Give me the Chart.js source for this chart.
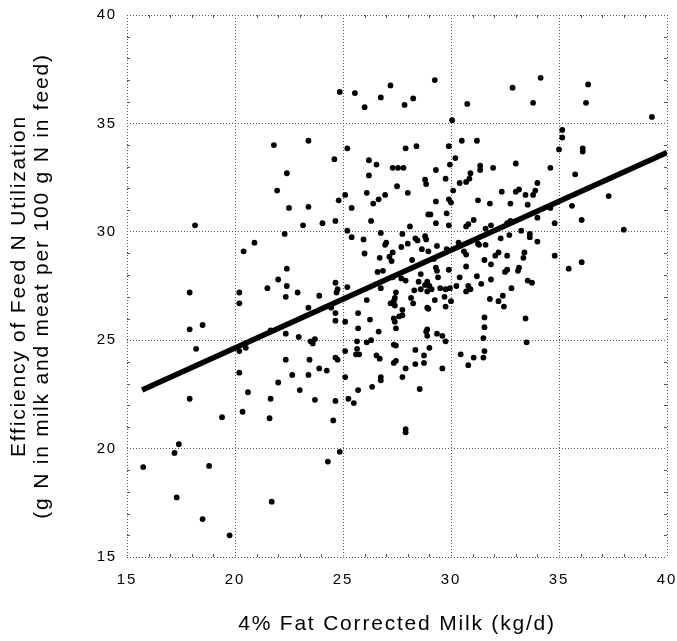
<!DOCTYPE html>
<html><head><meta charset="utf-8">
<script src="https://cdn.jsdelivr.net/npm/chart.js@4.4.0/dist/chart.umd.min.js"></script>
<style>html,body{margin:0;padding:0;background:#fff}#wrap{width:677px;height:641px}</style>
</head><body><div id="wrap"><canvas id="c" width="677" height="641"></canvas></div>
<script>
// 4% fat corrected milk (kg/d)
const fcm = [
18.15,20.4,17.9,20.2,20.2,17.9,18.5,18.2,20.2,20.2,17.9,19.4,20.35,17.4,17.2,15.75,18.8,17.3,18.5,19.75,
21.8,23.4,25.2,24.6,22.4,21.95,25.1,24.8,22.5,23.4,23.15,24.05,24.65,25.2,22.3,20.9,22.4,22.0,22.4,21.5,22.9,23.9,24.65,24.75,24.7,22.35,25.2,
23.4,24.45,24.65,24.65,25.1,21.65,22.35,22.95,23.5,23.7,23.6,20.5,25.1,22.35,23.45,24.65,24.75,23.9,24.25,22.65,23.4,25.1,22.0,20.6,23.0,21.65,23.7,24.65,25.25,21.6,24.55,24.85,24.3,21.7,
24.85,25.55,27.2,26.75,26.0,27.85,28.25,29.25,30.05,26.2,26.55,27.9,28.4,27.3,27.55,27.8,26.2,28.8,28.85,29.3,29.9,30.2,29.95,29.75,30.4,27.5,26.1,26.95,28.0,30.1,26.65,29.3,29.9,
26.4,25.4,26.3,28.95,29.05,29.8,28.1,29.3,29.9,26.75,27.75,25.4,25.95,28.35,28.45,28.8,28.85,27.0,26.95,27.7,28.0,28.65,28.95,29.35,29.8,30.35,26.0,26.7,27.15,27.3,27.25,28.2,29.2,29.3,29.35,29.9,26.6,26.85,27.3,27.7,27.9,28.6,28.5,28.9,29.0,28.8,28.6,29.1,29.4,29.5,29.75,29.95,30.25,27.4,28.15,26.75,
27.45,28.3,28.9,26.1,27.2,27.35,27.4,28.25,28.9,28.95,29.25,29.7,29.75,30.0,27.75,27.6,27.75,25.7,26.25,27.35,27.4,27.45,25.7,26.65,28.9,28.85,28.9,29.35,29.6,29.75,25.65,26.1,26.3,27.35,27.45,25.65,25.6,25.75,28.35,29.0,28.75,26.55,26.7,27.35,27.45,28.35,28.75,27.9,29.6,26.75,26.75,27.75,25.7,26.35,28.55,25.5,27.9,27.9,30.45,
30.75,32.85,34.15,33.8,30.5,31.2,35.15,35.15,35.0,31.35,31.35,30.9,31.95,33.0,34.6,30.7,30.85,32.35,33.0,33.15,33.45,33.8,33.9,34.0,31.25,
30.0,31.8,32.75,33.55,31.05,30.7,30.8,31.85,31.6,32.75,32.6,34.0,34.6,34.8,33.25,33.65,33.65,34.0,32.3,32.7,31.25,31.3,31.6,30.6,30.7,32.2,32.05,32.6,33.4,33.35,34.8,31.55,31.85,30.7,32.6,32.5,33.15,33.1,30.4,31.2,31.85,33.55,33.75,31.4,30.8,30.9,30.7,32.8,35.45,32.4,31.8,
32.2,32.45,31.55,33.45,31.55,31.5,33.5,31.55,31.05,31.5,30.8,
36.35,36.25,39.3,36.1,36.1,35.75,37.3,35.6,36.05,38.0,36.05
];
// Efficiency of feed N utilization (g N in milk and meat per 100 g N in feed)
const efficiency = [
30.3,29.1,27.2,27.2,26.7,25.5,25.7,24.6,24.5,23.5,22.3,21.45,21.7,20.2,19.8,19.15,19.2,17.75,16.75,16.0,
34.0,34.2,33.85,33.35,32.7,31.9,31.7,31.45,31.1,31.15,30.3,30.4,30.5,30.05,29.9,29.5,28.3,27.8,27.5,27.4,27.2,27.05,27.65,27.35,27.2,27.0,27.45,
26.5,26.5,26.25,25.9,25.85,25.45,25.3,25.15,24.95,25.05,24.85,24.65,24.5,24.1,24.1,24.2,24.1,23.7,23.6,23.4,23.4,23.3,23.05,22.6,22.7,22.3,22.25,22.2,22.3,21.4,21.3,19.85,19.4,17.55,
36.45,36.4,36.75,36.2,35.75,35.85,36.15,37.0,35.15,33.3,33.1,33.85,33.95,32.95,32.95,32.95,32.6,32.4,32.2,32.85,33.95,33.4,33.1,32.45,32.25,32.1,31.8,31.7,31.8,31.9,31.5,31.4,31.5,
31.3,31.1,30.5,30.8,30.8,30.85,30.25,30.4,30.3,29.95,29.9,29.75,29.65,29.7,29.6,29.8,29.65,29.5,29.4,29.3,29.45,29.2,29.1,29.35,29.2,29.5,29.0,28.8,28.85,29.05,28.65,28.7,28.75,28.35,28.2,28.25,28.15,28.2,27.9,27.85,27.75,28.05,27.7,27.7,27.5,27.55,27.35,27.35,27.9,27.4,27.35,27.4,27.5,26.95,26.95,27.4,
27.2,27.3,27.25,26.85,26.7,26.8,26.6,26.7,26.5,26.45,26.85,27.0,26.55,26.8,26.4,26.1,26.15,26.25,25.95,26.0,25.85,25.55,25.55,25.4,25.5,25.4,25.2,25.3,25.2,24.95,24.95,24.9,25.0,24.8,24.75,24.6,24.35,24.35,24.55,24.65,24.3,24.3,24.15,23.95,24.05,23.9,23.95,23.7,23.7,23.3,23.15,23.3,22.7,22.85,22.75,22.1,20.9,20.75,24.35,
35.9,36.65,37.1,35.95,34.2,34.2,34.7,34.35,33.8,33.05,32.85,32.7,32.95,33.15,32.95,32.3,32.45,31.85,31.85,31.95,31.7,31.7,31.9,32.25,31.45,
31.35,31.3,31.3,31.25,30.55,30.25,30.35,30.3,30.15,30.5,30.4,30.65,31.1,30.4,30.05,29.9,29.75,29.55,29.7,29.85,29.45,29.4,29.4,29.1,28.95,29.05,28.9,28.9,29.05,28.8,28.9,28.7,28.5,28.4,28.25,28.15,28.35,28.2,27.9,27.95,27.8,27.75,27.65,27.6,27.5,27.35,27.25,27.4,28.3,27.05,26.9,
26.8,26.55,26.05,26.0,25.6,25.1,24.9,24.5,24.2,24.2,23.85,
36.8,35.95,35.3,33.85,33.7,32.65,31.65,31.2,30.55,30.1,28.6
];
// regression line end points
const fitX = [15.7, 40];
const fitY = [22.7, 33.66];
const xTicks = [15, 20, 25, 30, 35, 40];
const yTicks = [15, 20, 25, 30, 35, 40];
const minorTickValues = [16,17,18,19,21,22,23,24,26,27,28,29,31,32,33,34,36,37,38,39];

const FONT = "'Liberation Sans', Arial, Helvetica, sans-serif";
const GRID = '#555';

const spacing = {
  id: 'spacing',
  beforeLayout(c) { c.ctx.letterSpacing = '1.8px'; },
  beforeDraw(c) { c.ctx.letterSpacing = '1.8px'; }
};
const minor = {
  id: 'minor',
  beforeDatasetsDraw(chart) {
    const {ctx, chartArea: a, scales: {x, y}} = chart;
    ctx.save();
    ctx.strokeStyle = GRID; ctx.lineWidth = 1; ctx.beginPath();
    for (const v of minorTickValues) {
      const px = Math.round(x.getPixelForValue(v)) + 0.5;
      ctx.moveTo(px, a.bottom); ctx.lineTo(px, a.bottom - 3);
      ctx.moveTo(px, a.top); ctx.lineTo(px, a.top + 3);
      const py = Math.round(y.getPixelForValue(v)) + 0.5;
      ctx.moveTo(a.left, py); ctx.lineTo(a.left + 3, py);
      ctx.moveTo(a.right, py); ctx.lineTo(a.right - 3, py);
    }
    ctx.stroke(); ctx.restore();
  }
};

new Chart(document.getElementById('c'), {
  type: 'scatter',
  data: {
    datasets: [
      { type: 'line', data: fitX.map((x, i) => ({x, y: fitY[i]})), borderColor: '#000', borderWidth: 5.5,
        pointRadius: 0, fill: false, order: 0, borderCapStyle: 'butt' },
      { data: fcm.map((x, i) => ({x, y: efficiency[i]})), pointRadius: 2.9, pointHoverRadius: 2.9,
        backgroundColor: '#000', borderWidth: 0, order: 1 }
    ]
  },
  options: {
    responsive: false, animation: false, devicePixelRatio: 1,
    layout: { padding: { top: 15, right: 10, left: 0, bottom: 0 } },
    plugins: { legend: { display: false }, tooltip: { enabled: false } },
    scales: {
      x: {
        type: 'linear', min: 15, max: 40,
        afterBuildTicks: s => { s.ticks = xTicks.map(v => ({value: v})); },
        afterFit: s => { s.height = 84; s.paddingLeft = 0; s.paddingRight = 0; },
        ticks: { font: { family: FONT, size: 15 }, color: '#000', padding: 14 },
        grid: { color: GRID, lineWidth: 1, drawTicks: false },
        border: { display: false, dash: [1, 2] },
        title: { display: true, text: '4% Fat Corrected Milk (kg/d)', color: '#000',
          font: { family: FONT, size: 21, lineHeight: 1.1 }, padding: { top: 0, bottom: 5 } }
      },
      y: {
        type: 'linear', min: 15, max: 40,
        afterBuildTicks: s => { s.ticks = yTicks.map(v => ({value: v})); },
        afterFit: s => { s.width = 127; s.paddingTop = 0; s.paddingBottom = 0; },
        ticks: { font: { family: FONT, size: 15 }, color: '#000', padding: 10 },
        grid: { color: GRID, lineWidth: 1, drawTicks: false },
        border: { display: false, dash: [1, 2] },
        title: { display: true, text: ['Efficiency of Feed N Utilization', '(g N in milk and meat per 100 g N in feed)'],
          color: '#000', font: { family: FONT, size: 21, lineHeight: 1.1 }, padding: { top: 8, bottom: 0 } }
      }
    }
  },
  plugins: [spacing, minor]
});
</script></body></html>
